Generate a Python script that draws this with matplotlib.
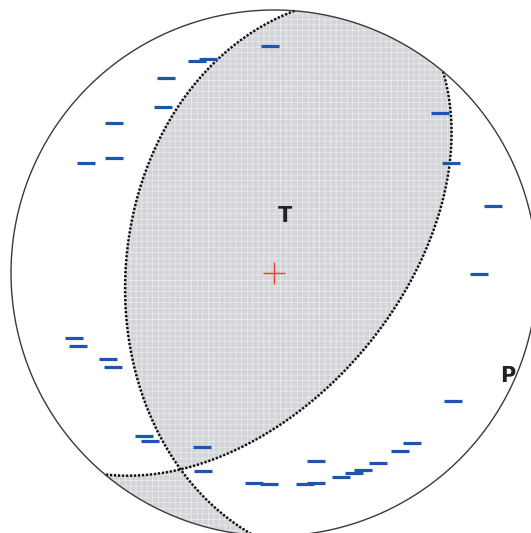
import numpy as np
import matplotlib.pyplot as plt

# nodal planes (strike, dip in degrees)
plane_strike = [184.5, 40]
plane_dip = [43, 53]

# dilatational first motions, equal-area net coordinates (unit radius, east / north)
station_x = [-0.015, -0.293, -0.251, -0.411, -0.422, -0.608, -0.608, -0.715,
             0.631, 0.673, 0.833, 0.779,
             -0.760, -0.745, -0.631, -0.612, -0.494, -0.471, -0.274, -0.270,
             0.681, 0.525, 0.479, 0.395, 0.338, 0.304, 0.255, 0.160,
             -0.076, -0.019, 0.118, 0.160]
station_y = [0.863, 0.806, 0.814, 0.741, 0.631, 0.570, 0.437, 0.418,
             0.608, 0.418, 0.255, -0.004,
             -0.247, -0.278, -0.327, -0.357, -0.620, -0.639, -0.662, -0.753,
             -0.487, -0.646, -0.677, -0.722, -0.749, -0.760, -0.776, -0.715,
             -0.798, -0.802, -0.802, -0.798]

axis_labels = ['T', 'P']
axis_x = [0.042, 0.890]
axis_y = [0.217, -0.392]


def pole(strike, dip):
    # lower-hemisphere pole of a plane, as (north, east, down)
    tr = np.radians(strike - 90)
    pl = np.radians(90 - dip)
    return np.array([np.cos(pl) * np.cos(tr), np.cos(pl) * np.sin(tr), np.sin(pl)])


def great_circle(strike, dip, n=400):
    s = np.radians(strike)
    d = np.radians(dip)
    dd = s + np.pi / 2
    t = np.linspace(0, np.pi, n)
    sv = np.array([np.cos(s), np.sin(s), 0.0])
    dv = np.array([np.cos(d) * np.cos(dd), np.cos(d) * np.sin(dd), np.sin(d)])
    v = np.outer(np.cos(t), sv) + np.outer(np.sin(t), dv)
    v[v[:, 2] < 0] *= -1
    plunge = np.arcsin(np.clip(v[:, 2], -1, 1))
    trend = np.arctan2(v[:, 1], v[:, 0])
    r = np.sqrt(2) * np.sin((np.pi / 2 - plunge) / 2)
    return r * np.sin(trend), r * np.cos(trend)


fig = plt.figure(figsize=(5.31, 5.33), dpi=100)
ax = fig.add_axes([0, 0, 1, 1])
ax.set_xlim(-274 / 263, 257 / 263)
ax.set_ylim(-260 / 263, 273 / 263)
ax.set_aspect('equal')
ax.axis('off')

# shaded quadrants from the sign of the two plane normals
g = np.linspace(-1, 1, 900)
U, V = np.meshgrid(g, g)
R = np.hypot(U, V)
theta = 2 * np.arcsin(np.clip(R / np.sqrt(2), 0, 1))
az = np.arctan2(U, V)
vec = np.stack([np.sin(theta) * np.cos(az), np.sin(theta) * np.sin(az), np.cos(theta)])
n1 = pole(plane_strike[0], plane_dip[0])
n2 = pole(plane_strike[1], plane_dip[1])
prod = np.tensordot(n1, vec, 1) * np.tensordot(n2, vec, 1)
prod = np.ma.masked_where(R > 1, prod)

plt.rcParams['hatch.color'] = '#f4f4f6'
plt.rcParams['hatch.linewidth'] = 0.35
ax.contourf(U, V, prod, levels=[0, prod.max() + 1], colors=['#d4d5d9'], hatches=['+++'])

for s, d in zip(plane_strike, plane_dip):
    x, y = great_circle(s, d)
    ax.plot(x, y, color='#111111', lw=1.8, ls=(0, (0.9, 0.7)))

t = np.linspace(0, 2 * np.pi, 500)
ax.plot(np.cos(t), np.sin(t), color='#3a3a3a', lw=1.0)

ax.plot(station_x, station_y, ls='none', marker='_', ms=12.5, mew=2.3, color='#1f55ad')

ax.plot(0, 0, marker='+', ms=16, mew=1.0, color='#e8402a')

for lab, x, y in zip(axis_labels, axis_x, axis_y):
    ax.text(x, y, lab, ha='center', va='center', fontsize=15, fontweight='bold',
            color='#222222')

fig.savefig('out.png', dpi=100)
